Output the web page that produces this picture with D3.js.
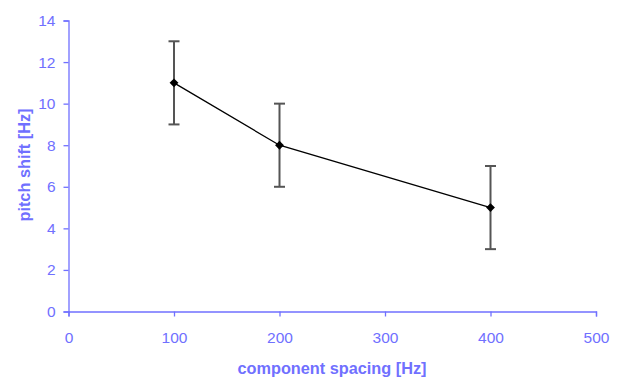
<!DOCTYPE html>
<html>
<head>
<meta charset="utf-8">
<script src="https://cdn.jsdelivr.net/npm/d3@7"></script>
<style>
  body { margin: 0; background: #fff; }
  text { font-family: "Liberation Sans", Arial, sans-serif; }
</style>
</head>
<body>
<svg id="chart" width="622" height="378"></svg>
<script>
// data
const spacing = [100, 200, 400];
const pitchShift = [11, 8, 5];
const errorSize = [2, 2, 2];
const xTicks = [0, 100, 200, 300, 400, 500];
const yTicks = [0, 2, 4, 6, 8, 10, 12, 14];

const axisColor = "#7070ff";
const svg = d3.select("#chart");

const x = d3.scaleLinear().domain([0, 500]).range([68.5, 596]);
const y = d3.scaleLinear().domain([0, 14]).range([311.5, 20.5]);

// x axis
const xAxis = svg.append("g")
  .attr("transform", "translate(0," + y(0) + ")")
  .call(d3.axisBottom(x).tickValues(xTicks).tickSize(5).tickPadding(15));
// y axis
const yAxis = svg.append("g")
  .attr("transform", "translate(" + x(0) + ",0)")
  .call(d3.axisLeft(y).tickValues(yTicks).tickSize(5).tickPadding(8));

[xAxis, yAxis].forEach(g => {
  g.select(".domain").attr("stroke", axisColor).attr("stroke-width", 1.3);
  g.selectAll(".tick line").attr("stroke", axisColor).attr("stroke-width", 1.3);
  g.selectAll(".tick text")
    .attr("fill", axisColor)
    .style("font-family", '"Liberation Sans", Arial, sans-serif')
    .style("font-size", "15.5px");
});

// axis titles
svg.append("text")
  .attr("x", 332)
  .attr("y", 374)
  .attr("text-anchor", "middle")
  .attr("fill", axisColor)
  .style("font-size", "16.3px")
  .style("font-weight", "bold")
  .text("component spacing [Hz]");

svg.append("text")
  .attr("transform", "translate(30," + 165 + ") rotate(-90)")
  .attr("text-anchor", "middle")
  .attr("fill", axisColor)
  .style("font-size", "16.3px")
  .style("font-weight", "bold")
  .text("pitch shift [Hz]");

const points = spacing.map((d, i) => ({x: d, y: pitchShift[i], e: errorSize[i]}));

// error bars
const err = svg.append("g").attr("stroke", "#555").attr("stroke-width", 2);
points.forEach(p => {
  err.append("line")
    .attr("x1", x(p.x)).attr("x2", x(p.x))
    .attr("y1", y(p.y + p.e)).attr("y2", y(p.y - p.e));
  [p.y + p.e, p.y - p.e].forEach(v => {
    err.append("line")
      .attr("x1", x(p.x) - 5.5).attr("x2", x(p.x) + 5.5)
      .attr("y1", y(v)).attr("y2", y(v));
  });
});

// line
const line = d3.line().x(d => x(d.x)).y(d => y(d.y));
svg.append("path")
  .datum(points)
  .attr("d", line)
  .attr("fill", "none")
  .attr("stroke", "#000")
  .attr("stroke-width", 1.3);

// diamond markers
svg.selectAll(".marker")
  .data(points)
  .enter()
  .append("path")
  .attr("class", "marker")
  .attr("d", d3.symbol().type(d3.symbolDiamond2).size(50))
  .attr("transform", d => "translate(" + x(d.x) + "," + y(d.y) + ")")
  .attr("fill", "#000");
</script>
</body>
</html>
